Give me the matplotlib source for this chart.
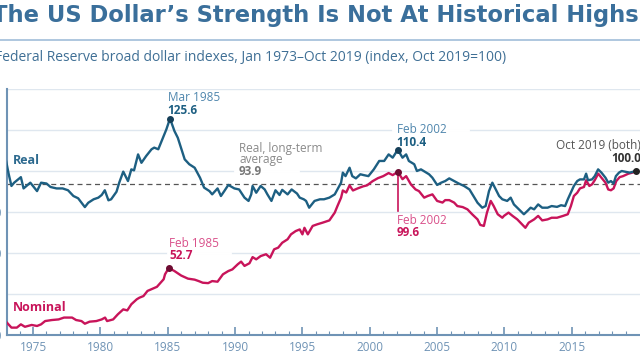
import matplotlib.pyplot as plt

# values (decimal years, index Oct 2019 = 100)
real_years = [1973.0, 1973.2, 1973.4, 1973.6, 1974.1, 1974.3, 1974.8, 1975.3, 1975.6, 1976.0,
              1976.3, 1976.75, 1977.2, 1977.6, 1978.0, 1978.35, 1978.5, 1978.85, 1979.1, 1979.5,
              1979.85, 1980.1, 1980.33, 1980.6, 1980.8, 1981.2, 1981.4, 1981.7, 1982.05, 1982.3,
              1982.5, 1982.8, 1983.05, 1983.4, 1983.8, 1984.0, 1984.3, 1984.65, 1984.9, 1985.17,
              1985.5, 1985.75, 1986.26, 1986.6, 1987.0, 1987.4, 1987.7, 1988.1, 1988.3, 1988.7,
              1988.95, 1989.2, 1989.5, 1989.95, 1990.3, 1990.7, 1991.0, 1991.2, 1991.3, 1991.57,
              1991.9, 1992.2, 1992.4, 1992.7, 1993.0, 1993.3, 1993.5, 1993.9, 1994.2, 1994.6,
              1994.8, 1995.1, 1995.27, 1995.5, 1995.9, 1996.3, 1996.6, 1997.0, 1997.4, 1997.6,
              1997.87, 1998.0, 1998.2, 1998.5, 1998.7, 1998.97, 1999.3, 1999.55, 1999.9, 2000.3,
              2000.7, 2001.07, 2001.4, 2001.7, 2002.08, 2002.43, 2002.7, 2002.9, 2003.3, 2003.5,
              2003.8, 2004.2, 2004.4, 2004.65, 2005.0, 2005.3, 2005.6, 2005.9, 2006.26, 2006.6,
              2007.0, 2007.4, 2007.7, 2008.0, 2008.35, 2008.6, 2008.85, 2009.1, 2009.35, 2009.6,
              2009.84, 2010.2, 2010.46, 2010.7, 2011.07, 2011.44, 2011.7, 2011.94, 2012.2, 2012.5,
              2012.8, 2013.2, 2013.5, 2013.9, 2014.2, 2014.5, 2014.7, 2014.98, 2015.15, 2015.4,
              2015.6, 2015.9, 2016.06, 2016.2, 2016.5, 2016.7, 2016.95, 2017.2, 2017.5, 2017.7,
              2017.9, 2018.1, 2018.27, 2018.5, 2018.7, 2019.3, 2019.75]
real_vals = [104.9, 98.4, 92.7, 94.3, 97.0, 91.5, 94.3, 90.2, 94.3, 93.9,
             92.2, 91.5, 91.5, 90.6, 87.8, 86.7, 85.4, 82.4, 84.5, 86.2,
             87.0, 88.3, 90.6, 85.7, 86.2, 89.9, 94.3, 99.7, 95.1, 100.8,
             100.3, 108.1, 104.0, 107.3, 110.6, 111.4, 110.6, 116.2, 120.3, 125.6,
             119.5, 116.2, 105.7, 103.3, 101.6, 96.7, 91.9, 90.2, 88.6, 91.5,
             87.8, 90.2, 93.2, 91.5, 91.0, 87.0, 85.4, 88.6, 92.7, 89.4,
             92.7, 91.0, 88.6, 85.4, 90.6, 88.3, 90.8, 88.6, 91.0, 89.0,
             87.0, 86.2, 85.4, 82.1, 85.4, 86.2, 86.2, 87.0, 88.6, 91.0,
             94.3, 99.2, 97.5, 101.6, 97.5, 96.4, 98.4, 98.0, 97.5, 100.8,
             104.9, 104.9, 108.1, 106.5, 110.4, 106.5, 108.1, 104.9, 103.3, 100.0,
             100.8, 99.2, 98.4, 96.7, 93.2, 94.3, 95.1, 96.4, 95.1, 93.9,
             92.7, 91.0, 87.8, 84.5, 82.1, 82.9, 90.2, 94.3, 91.0, 87.8,
             86.2, 85.4, 87.0, 83.7, 81.3, 78.9, 80.5, 82.1, 81.3, 83.7,
             82.1, 82.1, 82.9, 82.5, 83.3, 82.9, 86.2, 90.2, 92.7, 95.1,
             95.9, 95.9, 98.7, 95.5, 95.9, 97.5, 100.8, 99.2, 96.7, 94.3,
             95.1, 93.9, 97.5, 99.2, 100.0, 99.2, 100.0]

nom_years = [1973.0, 1973.4, 1973.8, 1974.1, 1974.4, 1974.9, 1975.3, 1975.6, 1975.9, 1976.4,
             1976.9, 1977.3, 1977.6, 1977.9, 1978.2, 1978.6, 1978.85, 1979.2, 1979.7, 1980.1,
             1980.35, 1980.5, 1980.95, 1981.3, 1981.7, 1982.0, 1982.3, 1982.7, 1982.9, 1983.2,
             1983.5, 1984.2, 1984.7, 1984.8, 1985.08, 1985.5, 1986.0, 1986.5, 1987.0, 1987.3,
             1987.6, 1988.0, 1988.3, 1988.7, 1989.1, 1989.5, 1989.8, 1990.2, 1990.45, 1990.7,
             1991.07, 1991.3, 1991.57, 1991.9, 1992.3, 1992.6, 1992.9, 1993.2, 1993.5, 1993.9,
             1994.15, 1994.5, 1994.8, 1995.0, 1995.15, 1995.4, 1995.76, 1996.1, 1996.5, 1997.0,
             1997.4, 1997.6, 1997.87, 1998.0, 1998.25, 1998.5, 1998.75, 1999.1, 1999.5, 1999.8,
             2000.2, 2000.6, 2001.0, 2001.4, 2001.7, 2002.08, 2002.43, 2002.7, 2003.05, 2003.4,
             2003.65, 2004.04, 2004.3, 2004.65, 2005.0, 2005.4, 2005.6, 2005.9, 2006.26, 2006.5,
             2006.9, 2007.25, 2007.6, 2008.0, 2008.2, 2008.47, 2008.7, 2008.98, 2009.2, 2009.5,
             2009.84, 2009.96, 2010.3, 2010.6, 2010.95, 2011.3, 2011.55, 2011.8, 2012.2, 2012.5,
             2012.8, 2013.2, 2013.5, 2013.9, 2014.35, 2014.7, 2014.93, 2015.15, 2015.4, 2015.6,
             2015.9, 2016.06, 2016.3, 2016.5, 2016.7, 2016.96, 2017.2, 2017.5, 2017.7, 2017.9,
             2018.1, 2018.3, 2018.55, 2018.8, 2019.2, 2019.5, 2019.75]
nom_vals = [26.5, 23.6, 23.6, 25.2, 24.0, 24.9, 24.4, 25.2, 26.8, 27.3,
            27.6, 28.5, 28.5, 28.5, 27.3, 26.8, 25.5, 26.5, 26.8, 27.6,
            28.5, 26.8, 27.6, 30.1, 32.5, 32.0, 35.0, 37.4, 38.2, 39.0,
            41.5, 43.5, 47.2, 49.6, 52.7, 51.2, 49.0, 47.5, 47.0, 46.3,
            45.5, 45.3, 46.3, 46.0, 49.6, 51.2, 52.0, 54.5, 55.8, 53.7,
            55.0, 58.0, 56.9, 58.5, 59.4, 57.7, 61.8, 62.6, 65.0, 66.7,
            69.1, 70.7, 71.5, 69.1, 72.3, 69.1, 73.2, 74.0, 74.8, 75.9,
            79.7, 82.9, 87.0, 90.5, 89.5, 93.0, 90.5, 91.5, 92.5, 93.0,
            95.0, 96.5, 97.5, 99.0, 98.0, 99.6, 96.0, 97.5, 93.5, 91.0,
            90.2, 87.0, 87.8, 88.6, 85.4, 84.6, 85.8, 85.8, 84.6, 82.9,
            82.4, 81.3, 78.9, 76.4, 73.7, 73.2, 79.7, 85.4, 82.9, 78.9,
            77.2, 78.1, 79.7, 78.1, 76.4, 74.0, 72.3, 74.8, 76.4, 78.1,
            75.9, 76.4, 77.2, 77.2, 78.1, 78.9, 82.9, 87.8, 89.4, 91.5,
            92.2, 95.5, 92.7, 93.5, 95.5, 98.7, 96.7, 94.3, 91.0, 90.6,
            91.5, 95.1, 97.0, 97.5, 98.7, 99.2, 100.0]

real_avg = 93.9
real_peak = (1985.17, 125.6)
nom_peak = (1985.08, 52.7)
real_peak02 = (2002.08, 110.4)
nom_peak02 = (2002.08, 99.6)
last = (2019.75, 100.0)
year_ticks = [1975, 1980, 1985, 1990, 1995, 2000, 2005, 2010, 2015]
y_ticks = [20, 40, 60, 80, 100, 120, 140]

FONT = 'Open Sans'
BLUE = '#1d5f82'
PINK = '#c8145a'
AXC = '#6f93b5'
plt.rcParams['font.family'] = FONT

fig = plt.figure(figsize=(6.4, 3.6), dpi=100)
ax = fig.add_axes([7 / 640, 25 / 360, 633 / 640, 246 / 360])

ax.plot(nom_years, nom_vals, color=PINK, lw=1.7, zorder=3)
ax.plot(real_years, real_vals, color=BLUE, lw=1.7, zorder=4)
ax.axhline(real_avg, color='#555555', lw=0.9, ls=(0, (4, 3)), zorder=2)

ax.set_xlim(1973.07, 2020.06)
ax.set_ylim(20, 140)
ax.set_yticks(y_ticks)
ax.set_xticks(year_ticks)
ax.set_xticks(range(1974, 2020), minor=True)
ax.grid(axis='y', color='#dfe7ef', lw=1)
ax.set_axisbelow(True)
for s in ['top', 'right']:
    ax.spines[s].set_visible(False)
for s in ['left', 'bottom']:
    ax.spines[s].set_color(AXC)
    ax.spines[s].set_linewidth(1.5)
ax.tick_params(axis='x', which='major', direction='in', length=6, width=1.2, color=AXC,
               labelcolor='#6f93b5', labelsize=8.5, pad=4)
ax.tick_params(axis='x', which='minor', direction='in', length=3, width=0.8, color=AXC)
ax.tick_params(axis='y', length=0, labelcolor='#6f93b5', labelsize=8.5, pad=4)

box = dict(facecolor='white', edgecolor='none', pad=0.5)

# peaks and end point
ax.plot(*real_peak, 'o', color='#163f58', ms=4, zorder=5)
ax.plot(*nom_peak, 'o', color='#6e0c32', ms=4, zorder=5)
ax.plot(*real_peak02, 'o', color='#163f58', ms=4, zorder=5)
ax.plot(*nom_peak02, 'o', color='#6e0c32', ms=4, zorder=5)
ax.plot(*last, 'o', color='#222222', ms=4, zorder=5)
ax.plot([nom_peak02[0], nom_peak02[0]], [nom_peak02[1], 80.5], color=PINK, lw=1.2, zorder=3)

ax.text(1973.5, 104.9, 'Real', color='#2d6a8f', fontsize=9, fontweight='bold', va='center')
ax.text(1973.5, 33.2, 'Nominal', color='#c8145a', fontsize=9, fontweight='bold', va='center')

ax.text(1985.0, 136.0, 'Mar 1985', color='#4f86ad', fontsize=8.5, va='center')
ax.text(1985.0, 129.7, '125.6', color='#1d5f82', fontsize=8.5, fontweight='bold', va='center')

ax.text(1985.1, 64.6, 'Feb 1985', color='#d9508a', fontsize=8.5, va='center')
ax.text(1985.1, 58.6, '52.7', color='#c8145a', fontsize=8.5, fontweight='bold', va='center',
        bbox=dict(facecolor='white', edgecolor='none', pad=0.5))
ax.plot([1985.0, 1989.6], [60, 60], color='white', lw=2, zorder=1.5)

ax.text(1990.3, 111.2, 'Real, long-term', color='#8a8a8a', fontsize=8.5, va='center')
ax.text(1990.3, 105.5, 'average', color='#8a8a8a', fontsize=8.5, va='center')
ax.text(1990.3, 99.6, '93.9', color='#777777', fontsize=8.5, fontweight='bold', va='center')
ax.plot([1990.0, 1994.7], [100, 100], color='white', lw=2, zorder=1.5)

ax.text(2002.0, 120.2, 'Feb 2002', color='#4f86ad', fontsize=8.5, va='center')
ax.text(2002.0, 114.0, '110.4', color='#1d5f82', fontsize=8.5, fontweight='bold', va='center')
ax.plot([2001.7, 2007.3], [120, 120], color='white', lw=2, zorder=1.5)

ax.text(2002.0, 75.8, 'Feb 2002', color='#d9508a', fontsize=8.5, va='center')
ax.text(2002.0, 69.9, '99.6', color='#c8145a', fontsize=8.5, fontweight='bold', va='center')

ax.text(2020.15, 112.2, 'Oct 2019 (both)', color='#555555', fontsize=8.5, va='center', ha='right')
ax.text(2020.15, 106.0, '100.0', color='#333333', fontsize=8.5, fontweight='bold', va='center', ha='right')

fig.text(-8 / 640, 1 - 21.7 / 360, 'The US Dollar\u2019s Strength Is Not At Historical Highs',
         color='#3a6f9b', fontsize=16.3, fontweight='bold', va='baseline', family='DejaVu Sans')
fig.add_artist(plt.Line2D([0, 1], [1 - 40 / 360, 1 - 40 / 360], color='#a8c3dc', lw=1.3))
fig.text(-5 / 640, 1 - 57 / 360,
         'Federal Reserve broad dollar indexes, Jan 1973\u2013Oct 2019 (index, Oct 2019=100)',
         color='#3f6f95', fontsize=10, va='center')

fig.savefig('out.png', dpi=100)
